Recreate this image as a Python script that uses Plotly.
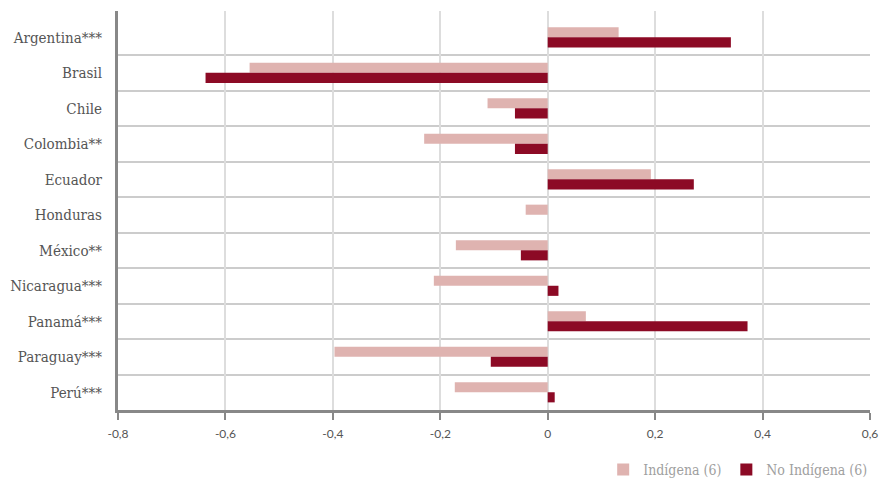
import plotly.graph_objects as go

countries = ["Argentina***", "Brasil", "Chile", "Colombia**", "Ecuador", "Honduras",
             "México**", "Nicaragua***", "Panamá***", "Paraguay***", "Perú***"]
indigena = [0.132, -0.555, -0.112, -0.23, 0.192, -0.041, -0.171, -0.212, 0.071, -0.397, -0.173]
no_indigena = [0.341, -0.637, -0.061, -0.061, 0.272, 0.0, -0.05, 0.02, 0.372, -0.106, 0.013]
x_ticks = [-0.8, -0.6, -0.4, -0.2, 0, 0.2, 0.4, 0.6]
x_ticktext = ["-0,8", "-0,6", "-0,4", "-0,2", "0", "0,2", "0,4", "0,6"]

ypos = list(range(len(countries)))

fig = go.Figure()
fig.add_trace(go.Bar(y=ypos, x=indigena, orientation="h", name="Indígena (6)",
                     marker=dict(color="#DFB3B0", line=dict(width=0))))
fig.add_trace(go.Bar(y=ypos, x=no_indigena, orientation="h", name="No Indígena (6)",
                     marker=dict(color="#8C0A25", line=dict(width=0))))

fig.update_layout(
    width=881, height=485,
    margin=dict(l=118, r=11, t=11, b=75),
    paper_bgcolor="white", plot_bgcolor="white",
    barmode="group", bargap=0.43, bargroupgap=0,
    showlegend=True,
    legend=dict(orientation="h", xref="container", yref="container",
                x=0.99, xanchor="right", y=0.031, yanchor="middle",
                font=dict(family="DejaVu Serif Condensed", size=14, color="#A0A0A0"),
                itemwidth=30, traceorder="normal"),
    xaxis=dict(range=[-0.8, 0.6], tickvals=x_ticks, ticktext=x_ticktext,
               automargin=False,
               showgrid=True, gridcolor="#DDDDDD", gridwidth=1.5,
               zeroline=True, zerolinecolor="#DDDDDD", zerolinewidth=1.5,
               showline=True, linecolor="#888888", linewidth=3,
               ticks="outside", ticklen=7, tickwidth=2, tickcolor="#888888",
               ticklabelstandoff=4,
               tickfont=dict(family="Lato", size=12, color="#555555")),
    yaxis=dict(range=[10.5, -0.74], tickvals=ypos, ticktext=countries,
               automargin=False,
               showgrid=False, zeroline=False,
               showline=True, linecolor="#888888", linewidth=3,
               ticks="", ticklabelstandoff=10,
               tickfont=dict(family="DejaVu Serif Condensed", size=15, color="#555555"),
               minor=dict(tickvals=[i + 0.5 for i in range(len(countries) - 1)],
                          showgrid=True, gridcolor="#CCCCCC", gridwidth=1.5, ticks="")),
)

fig.write_html("out.html", config={"displayModeBar": False},
               post_script="document.body.style.margin='0';document.body.style.overflow='hidden';")
